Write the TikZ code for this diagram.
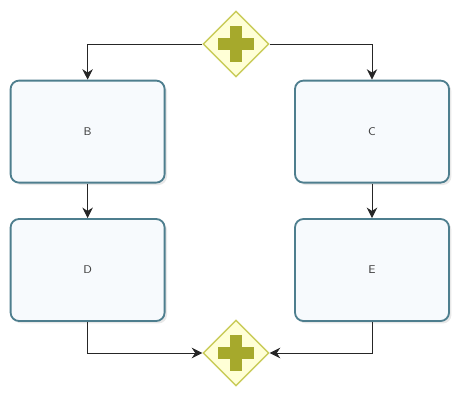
\documentclass[tikz,border=0pt]{standalone}
\usetikzlibrary{shapes.geometric,arrows.meta,shadows}

\definecolor{taskline}{HTML}{4E7E8E}
\definecolor{taskfill}{HTML}{F7FAFD}
\definecolor{gateline}{HTML}{C9CC5A}
\definecolor{gatefill}{HTML}{FFFFD6}
\definecolor{crossfill}{HTML}{A6A92C}

\tikzset{
  task/.style={draw=taskline, fill=taskfill, line width=1.3pt, rounded corners=6pt,
    minimum width=3.85cm, minimum height=2.55cm, font=\sffamily\footnotesize, text=black!75,
    drop shadow={opacity=0.18, shadow xshift=0.06cm, shadow yshift=-0.06cm}},
  gate/.style={diamond, draw=gateline, fill=gatefill, line width=1pt,
    minimum width=1.65cm, minimum height=1.65cm, inner sep=0pt},
  flow/.style={draw=black!85, line width=0.7pt, -{Stealth[length=7.5pt,width=7.5pt]}}
}

\begin{document}
\begin{tikzpicture}
    \useasboundingbox (0,0) rectangle (11.35,9.8);

    % Gateways
    \node[gate] (split) at (5.9,8.7) {};
    \node[gate] (join) at (5.9,0.975) {};
    \foreach \g in {split,join} {
        \fill[crossfill] ([shift={(-0.15,-0.44)}]\g.center) rectangle ([shift={(0.15,0.44)}]\g.center);
        \fill[crossfill] ([shift={(-0.44,-0.15)}]\g.center) rectangle ([shift={(0.44,0.15)}]\g.center);
    }

    % Tasks
    \node[task] (B) at (2.19,6.51) {B};
    \node[task] (C) at (9.3,6.51) {C};
    \node[task] (D) at (2.19,3.05) {D};
    \node[task] (E) at (9.3,3.05) {E};

    % Sequence flows
    \draw[flow] (split.west) -| (B.north);
    \draw[flow] (split.east) -| (C.north);
    \draw[flow] (B) -- (D);
    \draw[flow] (C) -- (E);
    \draw[flow] (D.south) |- (join.west);
    \draw[flow] (E.south) |- (join.east);
\end{tikzpicture}
\end{document}
